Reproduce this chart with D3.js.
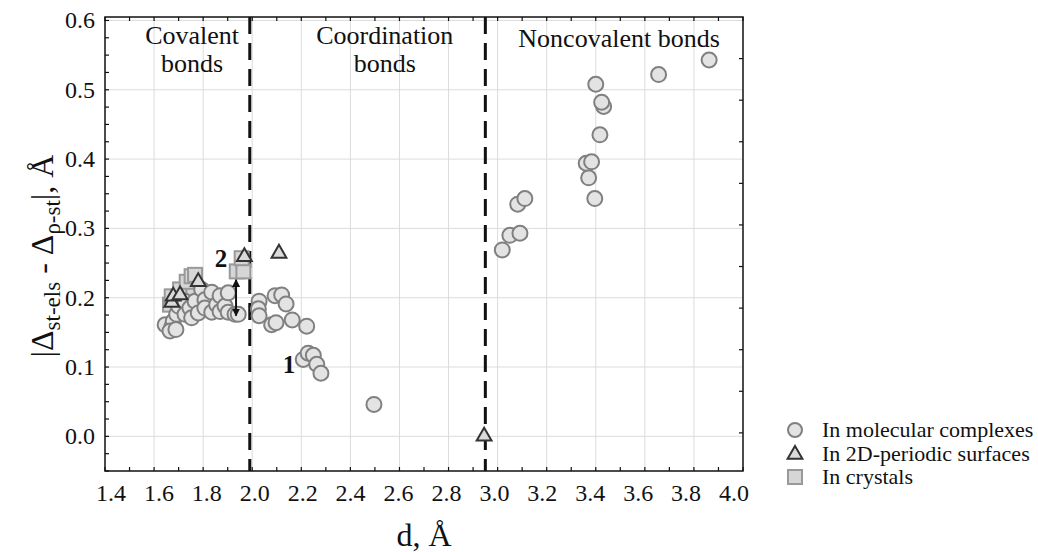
<!DOCTYPE html>
<html>
<head>
<meta charset="utf-8">
<script src="https://cdn.jsdelivr.net/npm/d3@7"></script>
<style>
  body { margin: 0; background: #fff; }
</style>
</head>
<body>
<div class="chart-container"></div>
<script>
// Data: [d (Å), |Δst-els - Δρ-st| (Å)]
const molecularComplexes = [
  [1.645, 0.161], [1.672, 0.158], [1.678, 0.166], [1.665, 0.152], [1.689, 0.154],
  [1.692, 0.176], [1.699, 0.188], [1.726, 0.176], [1.726, 0.195], [1.746, 0.185],
  [1.753, 0.171], [1.767, 0.195], [1.780, 0.178], [1.794, 0.212], [1.807, 0.197],
  [1.807, 0.185], [1.835, 0.208], [1.835, 0.179], [1.855, 0.190], [1.869, 0.203],
  [1.869, 0.180], [1.889, 0.188], [1.902, 0.207], [1.902, 0.179], [1.930, 0.176],
  [1.943, 0.176],
  [2.028, 0.195], [2.025, 0.184], [2.028, 0.174], [2.093, 0.203], [2.120, 0.204],
  [2.138, 0.191], [2.079, 0.161], [2.097, 0.164], [2.163, 0.168], [2.222, 0.159],
  [2.208, 0.111], [2.228, 0.120], [2.249, 0.117], [2.263, 0.104], [2.280, 0.091],
  [2.496, 0.046],
  [3.019, 0.269], [3.050, 0.290], [3.091, 0.293], [3.082, 0.335], [3.111, 0.343],
  [3.396, 0.343], [3.371, 0.373], [3.361, 0.394], [3.383, 0.396], [3.417, 0.435],
  [3.432, 0.476], [3.424, 0.482], [3.400, 0.508], [3.656, 0.522], [3.862, 0.543]
];
const periodicSurfaces = [
  [1.672, 0.193], [1.678, 0.202], [1.706, 0.204], [1.780, 0.223],
  [1.968, 0.259], [2.109, 0.264], [2.945, 0.0]
];
const crystals = [
  [1.665, 0.190], [1.672, 0.202], [1.706, 0.212], [1.740, 0.212], [1.760, 0.207],
  [1.733, 0.223], [1.753, 0.231], [1.767, 0.233], [1.937, 0.238], [1.964, 0.238],
  [1.957, 0.257]
];
const boundaries = [1.99, 2.95];
const regionLabels = [
  { x: 1.755, lines: ["Covalent", "bonds"] },
  { x: 2.54, lines: ["Coordination", "bonds"] },
  { x: 3.495, lines: ["Noncovalent bonds"] }
];
const xTicks = [1.4, 1.6, 1.8, 2.0, 2.2, 2.4, 2.6, 2.8, 3.0, 3.2, 3.4, 3.6, 3.8, 4.0];
const yTicks = [0.0, 0.1, 0.2, 0.3, 0.4, 0.5, 0.6];
const legendItems = ["In molecular complexes", "In 2D-periodic surfaces", "In crystals"];

const W = 1038, H = 552;
const FONT = '"Liberation Serif", "Times New Roman", Times, serif';
const svg = d3.select('.chart-container').append('svg')
  .attr('width', W).attr('height', H)
  .attr('font-family', FONT)
  .style('font-family', FONT);

const x = d3.scaleLinear().domain([1.4, 4.0]).range([105, 743]);
// tick labels in the picture sit on a slightly narrower span than the ticks
const xLab = d3.scaleLinear().domain([1.4, 4.0]).range([111, 734]);
const y = d3.scaleLinear().domain([-0.05, 0.605]).range([471, 17]);
const [x0, x1] = x.range();
const [y0, y1] = y.range();

// grid
svg.append('g').selectAll('line')
  .data(d3.range(1.6, 3.9, 0.2))
  .enter().append('line')
  .attr('x1', d => x(d)).attr('x2', d => x(d))
  .attr('y1', y1).attr('y2', y0)
  .attr('stroke', '#dcdcdc').attr('stroke-width', 1);
svg.append('g').selectAll('line')
  .data(yTicks)
  .enter().append('line')
  .attr('x1', x0).attr('x2', x1)
  .attr('y1', d => y(d)).attr('y2', d => y(d))
  .attr('stroke', '#dcdcdc').attr('stroke-width', 1);

// minor ticks, inward
const tickG = svg.append('g').attr('stroke', '#111').attr('stroke-width', 1.2);
d3.range(14, 41).map(d => d / 10).forEach(v => {
  tickG.append('line').attr('x1', x(v)).attr('x2', x(v)).attr('y1', y0).attr('y2', y0 - 4);
  tickG.append('line').attr('x1', x(v)).attr('x2', x(v)).attr('y1', y1).attr('y2', y1 + 4);
});
d3.range(-2, 25).map(d => d * 0.025).forEach(v => {
  tickG.append('line').attr('x1', x0).attr('x2', x0 + 4).attr('y1', y(v)).attr('y2', y(v));
});
d3.range(1, 11).map(k => 0.605 - 0.06 * k).forEach(v => {
  tickG.append('line').attr('x1', x1).attr('x2', x1 - 4).attr('y1', y(v)).attr('y2', y(v));
});

// frame
svg.append('rect')
  .attr('x', x0).attr('y', y1)
  .attr('width', x1 - x0).attr('height', y0 - y1)
  .attr('fill', 'none').attr('stroke', '#111').attr('stroke-width', 1.5);

// tick labels
svg.append('g').selectAll('text')
  .data(xTicks).enter().append('text')
  .attr('x', d => xLab(d)).attr('y', 501)
  .attr('text-anchor', 'middle').attr('font-size', 24).attr('fill', '#111')
  .text(d => d.toFixed(1));
svg.append('g').selectAll('text')
  .data(yTicks).enter().append('text')
  .attr('x', 95).attr('y', d => y(d) + 8)
  .attr('text-anchor', 'end').attr('font-size', 24).attr('fill', '#111')
  .text(d => d.toFixed(1));

// axis titles
svg.append('text')
  .attr('x', 424).attr('y', 546)
  .attr('text-anchor', 'middle').attr('font-size', 32).attr('fill', '#111')
  .text('d, Å');

const yt = svg.append('text')
  .attr('transform', 'translate(53,256) rotate(-90)')
  .attr('text-anchor', 'middle').attr('font-size', 32).attr('fill', '#111');
yt.append('tspan').text('|Δ');
yt.append('tspan').attr('font-size', 23).attr('dy', 7).text('st-els');
yt.append('tspan').attr('dy', -7).text(' - Δ');
yt.append('tspan').attr('font-size', 23).attr('dy', 7).text('ρ-st');
yt.append('tspan').attr('dy', -7).text('|, Å');

// region boundaries
svg.append('g').selectAll('line')
  .data(boundaries).enter().append('line')
  .attr('x1', d => x(d)).attr('x2', d => x(d))
  .attr('y1', y1).attr('y2', y0)
  .attr('stroke', '#111').attr('stroke-width', 3)
  .attr('stroke-dasharray', '17,9');

// region labels
regionLabels.forEach(r => {
  r.lines.forEach((t, i) => {
    svg.append('text')
      .attr('x', x(r.x)).attr('y', (r.lines.length > 1 ? 44 : 47) + i * 28)
      .attr('text-anchor', 'middle').attr('font-size', 26).attr('fill', '#111')
      .text(t);
  });
});

// points
const pts = svg.append('g');
pts.selectAll('rect.crystal')
  .data(crystals).enter().append('rect')
  .attr('class', 'crystal')
  .attr('x', d => x(d[0]) - 7).attr('y', d => y(d[1]) - 7)
  .attr('width', 14).attr('height', 14)
  .attr('fill', '#d6d6d6').attr('stroke', '#999').attr('stroke-width', 2);
pts.selectAll('circle')
  .data(molecularComplexes).enter().append('circle')
  .attr('cx', d => x(d[0])).attr('cy', d => y(d[1]))
  .attr('r', 7.5)
  .attr('fill', '#e3e3e3').attr('stroke', '#808080').attr('stroke-width', 2);
const tri = d3.symbol().type(d3.symbolTriangle).size(95);
pts.selectAll('path.tri')
  .data(periodicSurfaces).enter().append('path')
  .attr('class', 'tri')
  .attr('d', tri)
  .attr('transform', d => `translate(${x(d[0])},${y(d[1])})`)
  .attr('fill', '#dadada').attr('stroke', '#333').attr('stroke-width', 2);

// annotations
const ax = 1.934, ay1 = 0.226, ay2 = 0.174;
const defs = svg.append('defs');
defs.append('marker').attr('id', 'ah')
  .attr('viewBox', '0 0 10 10').attr('refX', 9).attr('refY', 5)
  .attr('markerWidth', 4).attr('markerHeight', 4)
  .attr('orient', 'auto-start-reverse')
  .append('path').attr('d', 'M0,0 L10,5 L0,10 z').attr('fill', '#111');
svg.append('line')
  .attr('x1', x(ax)).attr('x2', x(ax))
  .attr('y1', y(ay1)).attr('y2', y(ay2))
  .attr('stroke', '#111').attr('stroke-width', 2)
  .attr('marker-start', 'url(#ah)').attr('marker-end', 'url(#ah)');
svg.append('text')
  .attr('x', x(1.873)).attr('y', y(0.245))
  .attr('text-anchor', 'middle').attr('font-size', 25).attr('font-weight', 'bold')
  .attr('fill', '#111')
  .text('2');
svg.append('text')
  .attr('x', x(2.15)).attr('y', y(0.091))
  .attr('text-anchor', 'middle').attr('font-size', 25).attr('font-weight', 'bold')
  .attr('fill', '#111')
  .text('1');

// legend
const lg = svg.append('g').attr('transform', 'translate(795,430)');
legendItems.forEach((t, i) => {
  const g = lg.append('g').attr('transform', `translate(0,${i * 23.5})`);
  if (i === 0) {
    g.append('circle').attr('r', 7).attr('fill', '#e3e3e3')
      .attr('stroke', '#808080').attr('stroke-width', 2);
  } else if (i === 1) {
    g.append('path').attr('d', tri).attr('transform', 'translate(0,1)')
      .attr('fill', '#dadada').attr('stroke', '#333').attr('stroke-width', 2);
  } else {
    g.append('rect').attr('x', -7).attr('y', -7).attr('width', 14).attr('height', 14)
      .attr('fill', '#d6d6d6').attr('stroke', '#999').attr('stroke-width', 2);
  }
  g.append('text').attr('x', 27).attr('y', 7)
    .attr('font-size', 22).attr('fill', '#111').text(t);
});
</script>
</body>
</html>
